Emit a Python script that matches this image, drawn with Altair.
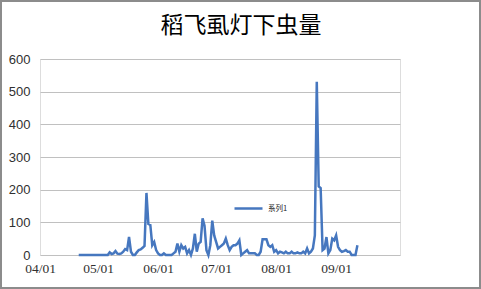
import altair as alt
import pandas as pd

# Daily light-trap counts of rice planthoppers, starting 04/21
start_date = "2013-04-21"
counts = [
    0, 0, 0, 0, 0, 0, 0, 0, 0, 0, 0, 0, 0, 0, 0, 0,          # 04/21 - 05/06
    8, 3, 5, 12, 4, 3, 5, 10, 18, 15, 55, 10, 0, 0,          # 05/07 - 05/20
    8, 15, 17, 22, 28, 190, 95, 92, 30, 40, 15, 5,           # 05/21 - 06/01
    0, 0, 5, 0, 0, 0, 0, 5, 10, 35, 10, 30, 20, 25,          # 06/02 - 06/15
    5, 15, 0, 20, 65, 10, 35, 40, 112, 90, 15, 0, 30, 105,   # 06/16 - 06/29
    60, 40, 20, 25, 30, 35, 50, 30, 15, 25, 30, 30, 35, 45,  # 06/30 - 07/13
    0, 5, 10, 15, 5, 5, 5, 5, 0, 0, 10, 48, 48, 48,          # 07/14 - 07/27
    30, 25, 30, 10, 15, 5, 10, 8, 5, 10, 5, 5, 10, 5,        # 07/28 - 08/10
    5, 8, 5, 5, 10, 5, 20, 5, 10, 20, 60, 530, 210, 205,     # 08/11 - 08/24
    15, 20, 55, 5, 15, 50, 45, 60, 25, 15, 10, 12, 15, 10,   # 08/25 - 09/07
    10, 0, 0, 0, 30,                                         # 09/08 - 09/12
]
series_name = "系列1"
month_ticks = ["2013-04-01", "2013-05-01", "2013-06-01",
               "2013-07-01", "2013-08-01", "2013-09-01"]
y_ticks = [0, 100, 200, 300, 400, 500, 600]

dates = pd.date_range(start_date, periods=len(counts), freq="D")
df = pd.DataFrame({
    "date": dates.strftime("%Y-%m-%d"),
    "count": counts,
    "series": series_name,
})


def utc_day(s):
    t = pd.Timestamp(s)
    return alt.DateTime(year=t.year, month=t.month, date=t.day, utc=True)


line = alt.Chart(df).mark_line(strokeWidth=2.5, strokeJoin="miter").encode(
    x=alt.X(
        "date:T",
        scale=alt.Scale(type="utc", domain=[utc_day("2013-04-01"), utc_day("2013-10-04")]),
        axis=alt.Axis(
            values=[utc_day(s) for s in month_ticks],
            labelExpr="utcFormat(datum.value, '%m/%d')",
            title=None,
            grid=False,
            ticks=False,
            domain=False,
            labelFlush=False,
            labelBound=False,
            labelOverlap=False,
            labelFont="Liberation Serif",
            labelFontSize=13.5,
            labelColor="#303030",
            labelPadding=6,
        ),
    ),
    y=alt.Y(
        "count:Q",
        scale=alt.Scale(domain=[0, 600], nice=False),
        axis=alt.Axis(
            values=y_ticks,
            title=None,
            ticks=False,
            domain=False,
            gridColor="#c0c0c0",
            gridWidth=1,
            labelFont="Liberation Sans",
            labelFontSize=13,
            labelColor="#303030",
            labelPadding=10,
        ),
    ),
    color=alt.Color(
        "series:N",
        scale=alt.Scale(range=["#4677BF"]),
        legend=alt.Legend(
            title=None,
            orient="none",
            legendX=193,
            legendY=134,
            symbolType="stroke",
            symbolSize=784,
            symbolStrokeWidth=2.5,
            labelFontSize=7.5,
            labelFont="Noto Sans CJK SC",
            labelColor="#202020",
            padding=0,
        ),
    ),
)

# outer chart-area frame
frame = alt.Chart(df).mark_rect(
    fill=None, stroke="#8c8c8c", strokeWidth=1.5
).encode(
    x=alt.value(-39.5), x2=alt.value(440), y=alt.value(-58.5), y2=alt.value(229.5)
)

chart = alt.layer(frame, line).properties(
    width=360,
    height=196,
    autosize=alt.AutoSizeParams(type="none"),
    padding={"left": 40, "top": 59, "right": 81, "bottom": 34},
    title=alt.TitleParams(
        "稻飞虱灯下虫量",
        font="Noto Sans CJK SC",
        fontSize=23,
        fontWeight="normal",
        color="#000000",
        anchor="middle",
        frame="group",
        dx=21,
        offset=0,
        dy=38,
    ),
).configure_view(stroke=None).configure(background="#ffffff")

chart.save("out.html", embed_options={"renderer": "svg", "actions": False})
